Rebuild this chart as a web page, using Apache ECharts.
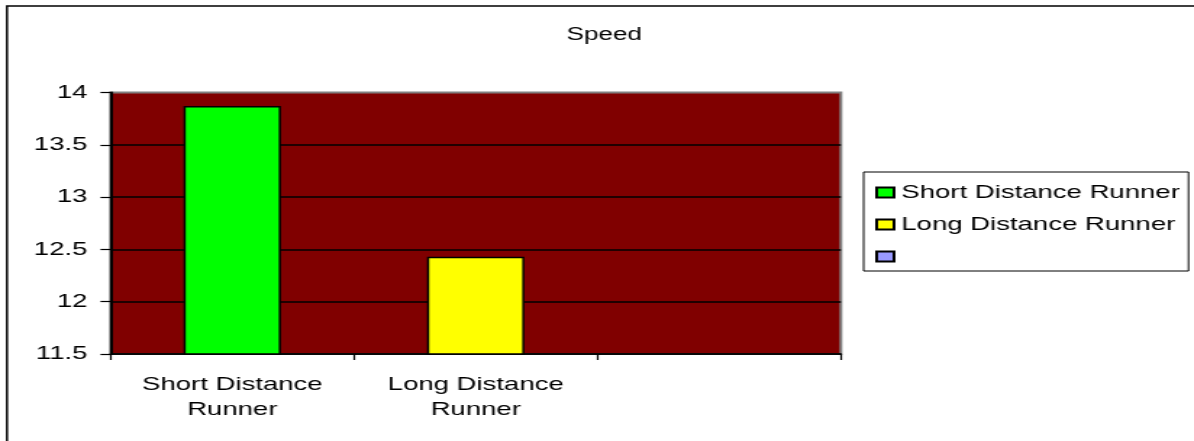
<!DOCTYPE html>
<html>
<head>
<meta charset="utf-8">
<script src="https://cdn.jsdelivr.net/npm/echarts@6/dist/echarts.min.js"></script>
<style>
  html, body { margin: 0; padding: 0; background: #fff; overflow: hidden; }
  /* the source picture is stretched sideways, so the chart is drawn narrow and widened */
  #main { width: 824px; height: 441px; transform: scaleX(1.449); transform-origin: 0 0; }
</style>
</head>
<body>
<div id="main"></div>
<script>
const titleText = 'Speed';
const categories = ['Short Distance Runner', 'Long Distance Runner', ''];
const seriesNames = ['Short Distance Runner', 'Long Distance Runner', ' '];
const seriesColors = ['#00FF00', '#FFFF00', '#9999FF'];
// one value per category, each runner drawn as its own series
const speedValues = [13.87, 12.43, null];
const yMin = 11.5;
const yMax = 14;
const yStep = 0.5;

const FONT = 'Liberation Sans, Arial, sans-serif';

function buildSeries() {
    return seriesNames.map(function (name, i) {
        const data = categories.map(function (c, j) {
            return (j === i && speedValues[i] != null) ? speedValues[i] : '-';
        });
        return {
            name: name,
            type: 'bar',
            data: data,
            barWidth: '40%',
            barGap: '-100%',
            itemStyle: { color: seriesColors[i], borderColor: '#000', borderWidth: 1.5 },
            emphasis: { disabled: true }
        };
    });
}

const chart = echarts.init(document.getElementById('main'));
chart.setOption({
    animation: false,
    backgroundColor: '#fff',
    textStyle: { fontFamily: FONT },
    title: {
        text: titleText,
        left: 386,
        top: 21,
        textStyle: { fontSize: 18, fontWeight: 'normal', color: '#000', fontFamily: FONT }
    },
    graphic: [{
        type: 'rect',
        silent: true,
        shape: { x: 4.8, y: 6, width: 1000, height: 1000 },
        style: { fill: 'none', stroke: '#000', lineWidth: 1.5 }
    }],
    legend: {
        orient: 'vertical',
        left: 596,
        top: 172,
        data: seriesNames,
        icon: 'rect',
        itemWidth: 12,
        itemHeight: 10,
        itemGap: 13,
        padding: [11, 6, 5, 8],
        borderColor: '#000',
        borderWidth: 1,
        selectedMode: false,
        textStyle: { fontSize: 19, color: '#000', fontFamily: FONT }
    },
    grid: {
        left: 76.3,
        top: 92.5,
        width: 504,
        height: 261.5,
        show: true,
        backgroundColor: '#800000',
        borderColor: '#808080',
        borderWidth: 2
    },
    xAxis: {
        type: 'category',
        data: categories,
        boundaryGap: true,
        axisLine: { lineStyle: { color: '#000', width: 1.5 } },
        axisTick: { show: true, alignWithLabel: false, length: 6, lineStyle: { color: '#000', width: 1.2 } },
        axisLabel: {
            color: '#000',
            fontSize: 19,
            lineHeight: 25,
            margin: 18,
            fontFamily: FONT,
            formatter: function (v) { return v.replace(' Runner', '\nRunner'); }
        }
    },
    yAxis: {
        type: 'value',
        min: yMin,
        max: yMax,
        interval: yStep,
        axisLine: { show: true, lineStyle: { color: '#000', width: 2 } },
        axisTick: { show: true, length: 7, lineStyle: { color: '#000', width: 1.2 } },
        axisLabel: { color: '#000', fontSize: 19, margin: 16, fontFamily: FONT },
        splitLine: { show: true, showMaxLine: false, lineStyle: { color: '#000', width: 1.5 } }
    },
    series: buildSeries()
});
</script>
</body>
</html>
